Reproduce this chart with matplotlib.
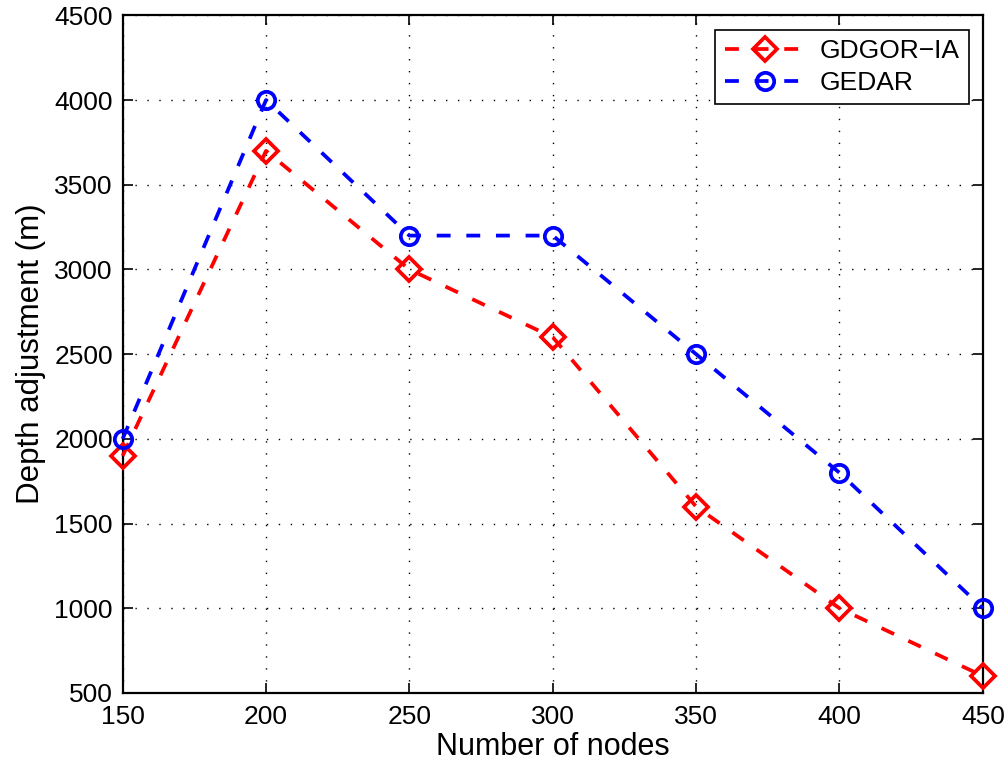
import matplotlib
matplotlib.use("Agg")
import matplotlib.pyplot as plt

nodes = [150, 200, 250, 300, 350, 400, 450]
gdgor_ia = [1900, 3700, 3000, 2600, 1600, 1000, 600]
gedar = [2000, 4000, 3200, 3200, 2500, 1800, 1000]
xticks = [150, 200, 250, 300, 350, 400, 450]
yticks = [500, 1000, 1500, 2000, 2500, 3000, 3500, 4000, 4500]

plt.rcParams['font.family'] = ['Liberation Sans', 'DejaVu Sans']

fig = plt.figure(figsize=(10.07, 7.68), dpi=100)
ax = fig.add_axes([0.1218, 0.0977, 0.976 - 0.1218, 0.980 - 0.0977])

dash = (0, (3.7, 4.2))
ax.plot(nodes, gdgor_ia, color='red', linestyle=dash, linewidth=2.7,
        marker='D', markersize=12, markerfacecolor='none', markeredgecolor='red',
        markeredgewidth=2.7, label='GDGOR\u2212IA', clip_on=False, zorder=3)
ax.plot(nodes, gedar, color='blue', linestyle=dash, linewidth=2.7,
        marker='o', markersize=12.5, markerfacecolor='none', markeredgecolor='blue',
        markeredgewidth=2.7, label='GEDAR', clip_on=False, zorder=3)

ax.set_xlim(150, 450)
ax.set_ylim(500, 4500)
ax.set_xticks(xticks)
ax.set_yticks(yticks)
ax.tick_params(axis='both', direction='in', top=True, right=True, length=7, width=1.2,
               labelsize=19)
ax.tick_params(axis='y', pad=7)
ax.tick_params(axis='x', pad=9)
ax.grid(True, color='black', linestyle=(0, (1, 7.6)), linewidth=1.0)
for s in ax.spines.values():
    s.set_linewidth(1.6)

ax.set_xlabel('Number of nodes', fontsize=22, labelpad=2)
ax.set_ylabel('Depth adjustment (m)', fontsize=22.5, labelpad=6)

leg = ax.legend(loc='upper right', fontsize=19, fancybox=False, framealpha=1,
                edgecolor='black', borderpad=0.35, handlelength=3.1,
                handletextpad=0.5, labelspacing=0.3, borderaxespad=0,
                bbox_to_anchor=(0.9837, 0.979))
leg.get_frame().set_linewidth(1.2)

fig.savefig('out.png', dpi=100)
